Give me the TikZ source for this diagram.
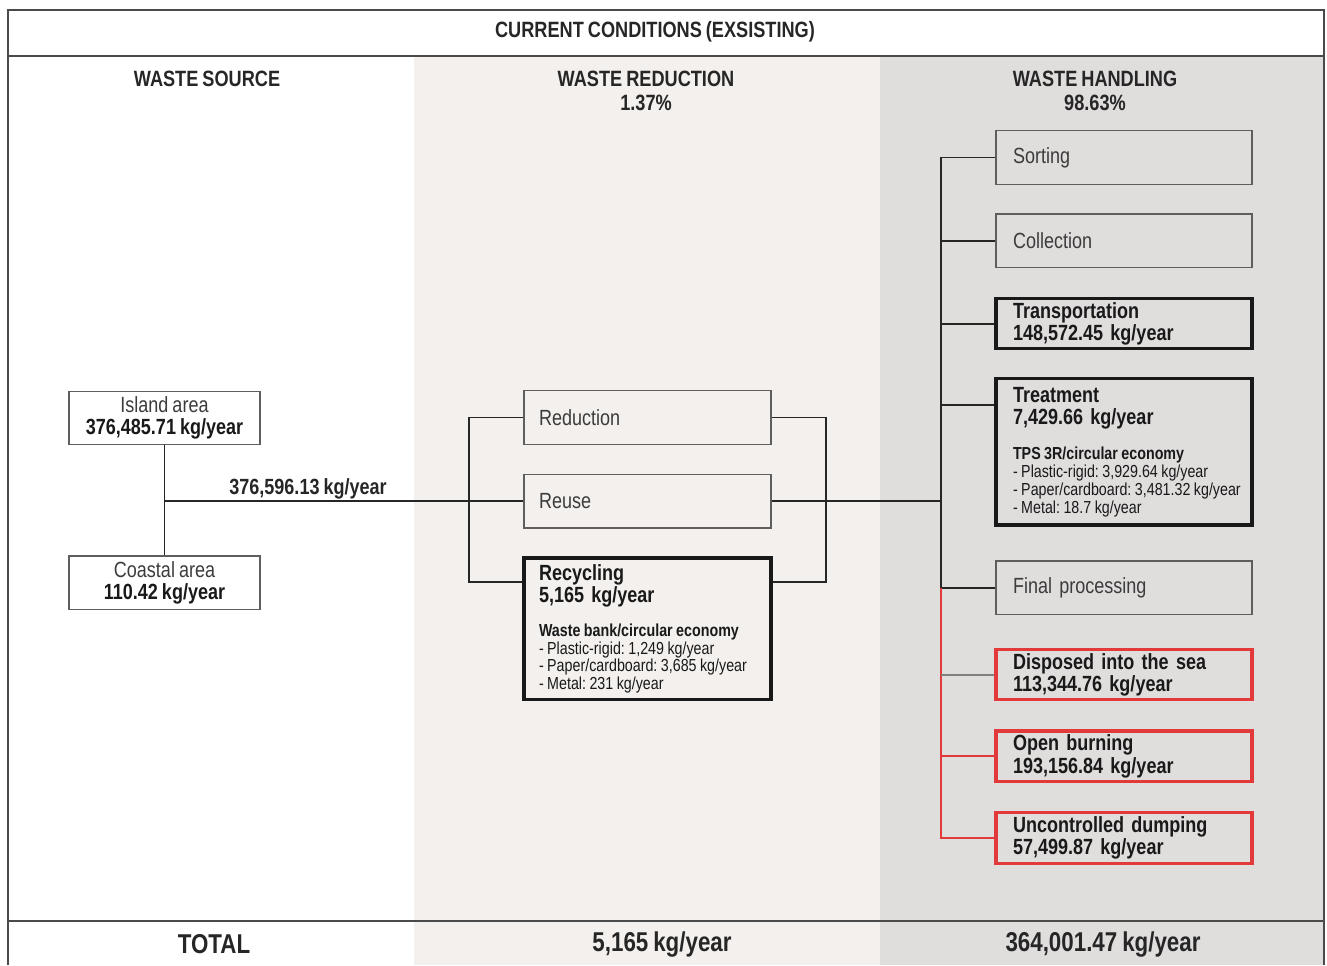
\documentclass[tikz,border=0pt]{standalone}
\usepackage{fontspec}
\setmainfont{Liberation Sans}[FakeStretch=0.82, WordSpace=0.8]
\usetikzlibrary{positioning}
\definecolor{midband}{HTML}{F3F0EE}
\definecolor{handband}{HTML}{E0DDDD}
\definecolor{rulegray}{HTML}{4A4A4A}
\definecolor{boxgray}{HTML}{5E5E5E}
\definecolor{inkgray}{HTML}{3C3C3C}
\definecolor{burnred}{HTML}{E2393B}
\newcommand{\listsize}{\fontsize{9.9}{10.1}\selectfont\spaceskip=0.2em plus 0.05em}
\frenchspacing
\hyphenpenalty=10000
\exhyphenpenalty=10000

\begin{document}
\begin{tikzpicture}[
    node distance=0.57cm,
    every node/.style={font=\fontsize{12.5}{12.8}\selectfont, text=inkgray},
    headtext/.style={font=\bfseries\fontsize{12.6}{13.4}\selectfont, text=black!85, align=center},
    totaltext/.style={font=\bfseries\fontsize{15.5}{16}\selectfont, text=black!85},
    srcbox/.style={draw=boxgray, line width=0.8pt, align=center, minimum width=3.82cm, minimum height=1.07cm, inner ysep=0.04cm},
    stagebox/.style={draw=boxgray, line width=0.8pt, align=left, text width=4.44cm, inner xsep=0.34cm, inner ysep=0.04cm, minimum height=1.07cm},
    midbox/.style={stagebox, text width=4.34cm, inner xsep=0.3cm},
    heavybox/.style={draw=black!90, line width=2pt, minimum height=1cm, text=black!90, font=\bfseries\fontsize{12.5}{12.8}\selectfont},
    redbox/.style={draw=burnred, line width=1.8pt, minimum height=1.01cm, text=black!90, font=\bfseries\fontsize{12.5}{12.8}\selectfont},
    flowline/.style={draw=black!85, line width=1.1pt},
    redline/.style={draw=burnred, line width=1.1pt}
]
\useasboundingbox (0,0) rectangle (26.54,-19.3);
% column bands and frame
\fill[midband] (8.28,-1.12) rectangle (17.6,-19.3);
\fill[handband] (17.6,-1.12) rectangle (26.48,-19.3);
\draw[rulegray, line width=1.1pt] (0.16,-19.3) -- (0.16,-0.2) -- (26.48,-0.2) -- (26.48,-19.3);
\draw[rulegray, line width=1.6pt] (0.16,-1.12) -- (26.48,-1.12);
\draw[rulegray, line width=1.6pt] (0.16,-18.42) -- (26.48,-18.42);

% headings
\node[headtext, font=\bfseries\fontsize{12.6}{13}\selectfont] (title) at (13.1,-0.64) {CURRENT CONDITIONS (EXSISTING)};
\node[headtext, anchor=north] (srchead) at (4.14,-1.3) {WASTE SOURCE};
\node[headtext, anchor=north] (reducehead) at (12.92,-1.3) {WASTE REDUCTION\\1.37\%};
\node[headtext, anchor=north] (handlehead) at (21.9,-1.3) {WASTE HANDLING\\98.63\%};

% sources
\node[srcbox] (island) at (3.29,-8.36) {Island area\\\textbf{\color{black!90}376,485.71 kg/year}};
\node[srcbox, below=2.2cm of island] (coastal) {Coastal area\\\textbf{\color{black!90}110.42 kg/year}};

% reduction
\node[midbox] (reduction) at (12.95,-8.35) {Reduction};
\node[midbox, below=0.58cm of reduction] (reuse) {Reuse};
\node[midbox, heavybox, below=0.55cm of reuse, minimum height=2.83cm] (recycling) {Recycling\\5,165 kg/year\par\vspace{9pt}
  {\listsize Waste bank/circular economy\par}
  {\listsize\mdseries -~Plastic-rigid:~1,249~kg/year\\-~Paper/cardboard:~3,685~kg/year\\-~Metal:~231~kg/year\par}};

% handling
\node[stagebox] (sorting) at (22.48,-3.15) {Sorting};
\node[stagebox, below=of sorting] (collection) {Collection};
\node[stagebox, heavybox, below=of collection] (transport) {Transportation\\148,572.45 kg/year};
\node[stagebox, heavybox, below=0.53cm of transport, minimum height=2.93cm] (treatment) {Treatment\\7,429.66 kg/year\par\vspace{10pt}
  {\listsize TPS 3R/circular economy\par}
  {\listsize\mdseries -~Plastic-rigid:~3,929.64~kg/year\\-~Paper/cardboard:~3,481.32~kg/year\\-~Metal:~18.7~kg/year\par}};
\node[stagebox, below=0.67cm of treatment] (final) {Final processing};
\node[stagebox, redbox, below=0.65cm of final] (sea) {Disposed into the sea\\113,344.76 kg/year};
\node[stagebox, redbox, below=0.56cm of sea] (burning) {Open burning\\193,156.84 kg/year};
\node[stagebox, redbox, below=0.56cm of burning] (dumping) {Uncontrolled dumping\\57,499.87 kg/year};

% connectors
\coordinate (split) at (island |- reuse.west);
\coordinate (lfork) at (9.38,0);
\coordinate (rfork) at (16.52,0);
\coordinate (trunk) at (18.82,0);
\coordinate (recin) at ([yshift=-0.52cm]recycling.north west);
\coordinate (recout) at ([yshift=-0.52cm]recycling.north east);
\coordinate (treatin) at ([yshift=-0.56cm]treatment.north west);
\draw[flowline] (island.south) -- (coastal.north);
\draw[flowline] (split) -- node[above, pos=0.4, inner sep=1pt, font=\bfseries\fontsize{12.5}{12.8}\selectfont, text=black!85] (flowqty) {376,596.13 kg/year} (reuse.west);
\draw[flowline] (reduction.west) -- (lfork |- reduction.west) -- (lfork |- recin) -- (recin);
\draw[flowline] (reduction.east) -- (rfork |- reduction.east) -- (rfork |- recout) -- (recout);
\draw[flowline] (reuse.east) -- (trunk |- reuse.east);
\draw[flowline] (sorting.west) -- (trunk |- sorting.west) -- (trunk |- final.west) -- (final.west);
\foreach \stage in {collection, transport}
  \draw[flowline] (\stage.west) -- (trunk |- \stage.west);
\draw[flowline] (treatin) -- (trunk |- treatin);
\draw[redline] (trunk |- final.west) -- (trunk |- dumping.west) -- (dumping.west);
\draw[redline] (burning.west) -- (trunk |- burning.west);
\draw[flowline, draw=gray] (sea.west) -- (trunk |- sea.west);

% totals
\node[totaltext] (totallabel) at (4.28,-18.88) {TOTAL};
\node[totaltext] (reducetotal) at (13.24,-18.88) {5,165 kg/year};
\node[totaltext] (handletotal) at (22.06,-18.88) {364,001.47 kg/year};
\end{tikzpicture}
\end{document}
